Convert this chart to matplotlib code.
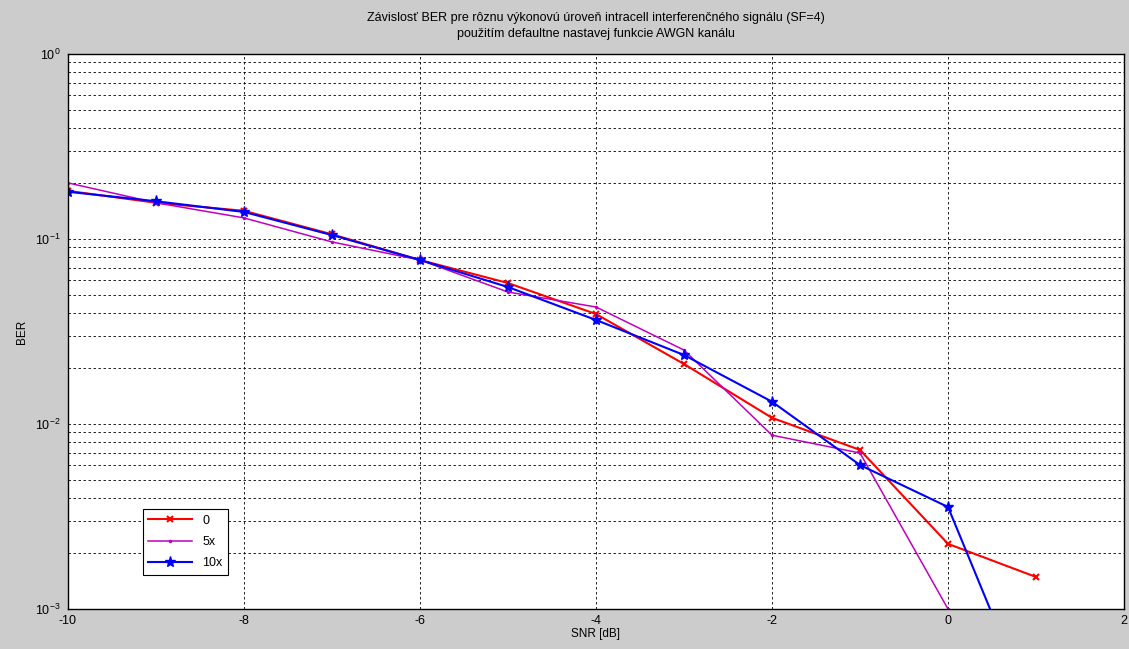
import numpy as np
import matplotlib
matplotlib.use('Agg')
import matplotlib.pyplot as plt
from matplotlib.ticker import LogLocator, FixedLocator

plt.rcParams['font.family'] = ['Liberation Sans', 'DejaVu Sans']
plt.rcParams['axes.unicode_minus'] = False

snr = [-10, -9, -8, -7, -6, -5, -4, -3, -2, -1, 0, 1]
ber_0 = [0.182, 0.157, 0.142, 0.106, 0.077, 0.0578, 0.0393, 0.0211, 0.0108, 0.00724, 0.00225, 0.00149]
snr_5x = [-10, -9, -8, -7, -6, -5, -4, -3, -2, -1, 0]
ber_5x = [0.201, 0.157, 0.130, 0.0964, 0.077, 0.0517, 0.0429, 0.0251, 0.0087, 0.00697, 0.001]
ber_10x = [0.180, 0.160, 0.140, 0.105, 0.077, 0.055, 0.0365, 0.0236, 0.0132, 0.0060, 0.00356, 0.00025]

fig = plt.figure(figsize=(11.29, 6.49), dpi=100, facecolor='#cccccc')
ax = fig.add_axes([0.0602, 0.0616, 0.9354, 0.8552])

ax.plot(snr, ber_0, color='red', lw=1.5, marker='x', ms=5, mew=1.5, label='0')
ax.plot(snr_5x, ber_5x, color='#c000c0', lw=1.1, marker='.', ms=3, label='5x')
ax.plot(snr, ber_10x, color='blue', lw=1.5, marker='*', ms=8, label='10x')

ax.set_yscale('log')
ax.set_xlim(-10, 2)
ax.set_ylim(1e-3, 1)
ax.xaxis.set_major_locator(FixedLocator([-10, -8, -6, -4, -2, 0, 2]))
ax.yaxis.set_major_locator(LogLocator(base=10, numticks=10))
ax.yaxis.set_minor_locator(LogLocator(base=10, subs=np.arange(2, 10), numticks=20))
ax.yaxis.set_minor_formatter(plt.NullFormatter())

ax.grid(True, which='major', axis='both', color='black', linestyle=(0, (3, 3)), lw=0.6)
ax.grid(True, which='minor', axis='y', color='black', linestyle=(0, (3, 3)), lw=0.6)
ax.tick_params(which='both', direction='in', length=0, labelsize=9)
ax.tick_params(axis='x', pad=4)
ax.tick_params(axis='y', pad=5)
for s in ax.spines.values():
    s.set_linewidth(1.0)

ax.set_xlabel('SNR [dB]', fontsize=8.5, labelpad=1)
ax.set_ylabel('BER', fontsize=8.5, labelpad=5)
ax.set_title('Závislosť BER pre rôznu výkonovú úroveň intracell interferenčného signálu (SF=4)\n'
             'použitím defaultne nastavej funkcie AWGN kanálu', fontsize=9, pad=12, linespacing=1.45)

leg = ax.legend(loc='lower left', bbox_to_anchor=(0.065, 0.05), fontsize=9, fancybox=False,
                edgecolor='black', framealpha=1, borderpad=0.45, handlelength=3.5, labelspacing=0.75)
leg.get_frame().set_linewidth(0.8)

fig.savefig('out.png', dpi=100, facecolor=fig.get_facecolor())
